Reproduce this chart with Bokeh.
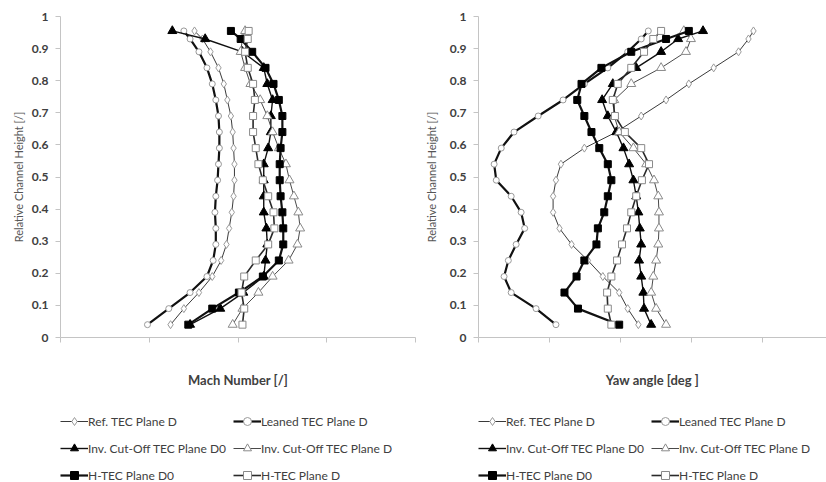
from bokeh.plotting import figure
from bokeh.layouts import row, column
from bokeh.models import Legend, LegendItem, FixedTicker, Range1d
from bokeh.embed import file_html
from bokeh.resources import INLINE

# Relative channel height of the traverse points
height = [0.04, 0.09, 0.14, 0.19, 0.24, 0.29, 0.34, 0.39, 0.44, 0.49,
          0.54, 0.59, 0.64, 0.69, 0.74, 0.79, 0.84, 0.89, 0.93, 0.955]

series_names = ["Ref. TEC Plane D", "Leaned TEC Plane D",
                "Inv. Cut-Off TEC Plane D0", "Inv. Cut-Off TEC Plane D",
                "H-TEC Plane D0", "H-TEC Plane D"]

# Mach number [/]
mach_ref = [0.324, 0.339, 0.356, 0.371, 0.381, 0.387, 0.390, 0.393, 0.395, 0.396,
            0.396, 0.395, 0.394, 0.392, 0.388, 0.384, 0.378, 0.369, 0.360, 0.351]
mach_leaned = [0.298, 0.322, 0.346, 0.365, 0.372, 0.375, 0.375, 0.374, 0.375, 0.377,
               0.378, 0.379, 0.379, 0.378, 0.375, 0.371, 0.365, 0.356, 0.346, 0.339]
mach_inv_d0 = [0.346, 0.380, 0.406, 0.429, 0.431, 0.433, 0.432, 0.429, 0.429, 0.429,
               0.429, 0.434, 0.437, 0.437, 0.439, 0.433, 0.429, 0.405, 0.363, 0.326]
mach_inv_d = [0.394, 0.405, 0.423, 0.439, 0.457, 0.467, 0.470, 0.468, 0.463, 0.458,
              0.454, 0.446, 0.439, 0.433, 0.425, 0.414, 0.408, 0.403, 0.405, 0.408]
mach_htec_d0 = [0.344, 0.371, 0.401, 0.428, 0.446, 0.451, 0.451, 0.450, 0.448, 0.447,
                0.447, 0.448, 0.450, 0.450, 0.446, 0.440, 0.431, 0.416, 0.403, 0.392]
mach_htec_d = [0.405, 0.407, 0.404, 0.407, 0.420, 0.434, 0.441, 0.440, 0.434, 0.428,
               0.423, 0.420, 0.417, 0.417, 0.419, 0.417, 0.411, 0.408, 0.411, 0.412]

# Yaw angle [deg]
yaw_ref = [-17.5, -19.0, -20.2, -22.5, -24.6, -26.9, -28.6, -29.5, -29.5, -29.1,
           -28.4, -25.1, -20.6, -17.1, -13.6, -10.4, -6.9, -3.4, -2.0, -1.3]
yaw_leaned = [-29.1, -31.9, -35.4, -36.4, -35.8, -34.7, -33.5, -34.0, -35.4, -37.5,
              -37.8, -36.8, -35.0, -31.6, -28.1, -25.1, -21.8, -19.0, -17.1, -16.1]
yaw_inv_d0 = [-15.7, -16.7, -16.8, -17.1, -17.4, -17.1, -17.3, -17.5, -17.8, -18.2,
              -18.8, -19.6, -20.6, -21.8, -22.6, -21.1, -17.8, -14.3, -11.9, -8.4]
yaw_inv_d = [-13.6, -15.0, -15.7, -15.4, -15.0, -14.7, -14.6, -14.6, -14.7, -15.3,
             -16.4, -18.2, -20.2, -20.9, -20.9, -18.5, -14.3, -10.8, -10.1, -11.1]
yaw_htec_d0 = [-20.2, -26.0, -27.9, -26.2, -25.1, -23.4, -23.2, -22.3, -21.8, -21.3,
               -21.8, -23.0, -24.1, -25.1, -26.1, -25.5, -22.7, -18.5, -13.6, -10.4]
yaw_htec_d = [-21.3, -21.8, -21.9, -21.3, -20.5, -19.8, -19.1, -18.5, -17.8, -17.0,
              -16.0, -17.1, -19.4, -20.8, -21.1, -20.4, -18.5, -16.7, -15.4, -14.3]

mach_ticks = [0.2, 0.3, 0.4, 0.5, 0.6]
yaw_ticks = [-40, -30, -20, -10, 0]
height_ticks = [0, 0.1, 0.2, 0.3, 0.4, 0.5, 0.6, 0.7, 0.8, 0.9, 1]

# styles (line color, line width, marker, marker size, marker fill, marker line)
styles = [
    dict(lc="#3a3a3a", lw=1.0, m="diamond", ms=8, fill="white", mline="#9a9a9a"),
    dict(lc="#111111", lw=2.2, m="circle", ms=6, fill="white", mline="#9a9a9a"),
    dict(lc="#111111", lw=1.4, m="triangle", ms=9, fill="black", mline="black"),
    dict(lc="#4a4a4a", lw=1.0, m="triangle", ms=9, fill="white", mline="#8a8a8a"),
    dict(lc="#111111", lw=2.2, m="square", ms=7, fill="black", mline="black"),
    dict(lc="#2a2a2a", lw=1.6, m="square", ms=7, fill="white", mline="#8a8a8a"),
]

FONT = "Lato"
MAIN_H = 394
LEG_H = 88


def make_panel(xseries, x_start, x_end, ticks, xlabel, width, bl, br, ylab_standoff):
    p = figure(width=width, height=MAIN_H, output_backend="svg", toolbar_location=None,
               x_range=Range1d(x_start, x_end), y_range=Range1d(0, 1),
               min_border_left=bl, min_border_right=br, min_border_top=16,
               min_border_bottom=MAIN_H - 337)
    p.outline_line_color = None
    p.xgrid.visible = False
    p.ygrid.visible = False

    p.xaxis.ticker = FixedTicker(ticks=ticks)
    p.xaxis.major_label_overrides = {t: "" for t in ticks}
    p.xaxis.major_label_standoff = 0
    p.xaxis.major_tick_out = 5
    p.xaxis.major_tick_in = 0
    p.xaxis.minor_tick_line_color = None
    p.xaxis.axis_line_color = "#c4c4c4"
    p.xaxis.major_tick_line_color = "#c4c4c4"
    p.xaxis.axis_label = xlabel
    p.xaxis.axis_label_text_font = FONT
    p.xaxis.axis_label_text_font_size = "13px"
    p.xaxis.axis_label_text_font_style = "bold"
    p.xaxis.axis_label_text_color = "#404040"
    p.xaxis.axis_label_standoff = 29

    p.yaxis.ticker = FixedTicker(ticks=height_ticks)
    p.yaxis.major_label_overrides = {0: "0", 1: "1"}
    p.yaxis.major_tick_out = 5
    p.yaxis.major_tick_in = 0
    p.yaxis.minor_tick_line_color = None
    p.yaxis.axis_line_color = "#c4c4c4"
    p.yaxis.major_tick_line_color = "#c4c4c4"
    p.yaxis.major_label_standoff = 7
    p.yaxis.major_label_text_font = FONT
    p.yaxis.major_label_text_font_size = "12px"
    p.yaxis.major_label_text_font_style = "bold"
    p.yaxis.major_label_text_color = "#404040"
    p.yaxis.axis_label = "Relative Channel Height [/]"
    p.yaxis.axis_label_text_font = FONT
    p.yaxis.axis_label_text_font_size = "11px"
    p.yaxis.axis_label_text_font_style = "normal"
    p.yaxis.axis_label_text_color = "#555555"
    p.yaxis.axis_label_standoff = ylab_standoff

    for xs, st in zip(xseries, styles):
        p.line(xs, height, line_color=st["lc"], line_width=st["lw"])
        p.scatter(xs, height, marker=st["m"], size=st["ms"],
                  fill_color=st["fill"], line_color=st["mline"], line_width=1)
    return p


def make_legend(xseries, x_start, x_end, width, dx):
    # separate strip below each chart holding its legend; the series are
    # re-plotted outside the visible y range so that only the legend shows
    q = figure(width=width, height=LEG_H, output_backend="svg", toolbar_location=None,
               x_range=Range1d(x_start, x_end), y_range=Range1d(5, 6),
               x_axis_location=None, y_axis_location=None,
               min_border_left=dx, min_border_right=0, min_border_top=17,
               min_border_bottom=0)
    q.outline_line_color = None
    q.xgrid.visible = False
    q.ygrid.visible = False
    items = []
    for name, xs, st in zip(series_names, xseries, styles):
        ln = q.line(xs, height, line_color=st["lc"], line_width=st["lw"])
        sc = q.scatter(xs, height, marker=st["m"], size=st["ms"] - 1,
                       fill_color=st["fill"], line_color=st["mline"], line_width=1)
        items.append(LegendItem(label=name, renderers=[ln, sc]))
    legend = Legend(items=items, location="top_left", orientation="horizontal",
                    ncols=2, glyph_width=28, glyph_height=20, label_height=20,
                    label_standoff=0, spacing=7, padding=0, margin=0,
                    label_text_font=FONT, label_text_font_size="12px",
                    label_text_color="#404040", border_line_color=None,
                    background_fill_alpha=0)
    q.add_layout(legend, "center")
    return q


mach_series = [mach_ref, mach_leaned, mach_inv_d0, mach_inv_d, mach_htec_d0, mach_htec_d]
yaw_series = [yaw_ref, yaw_leaned, yaw_inv_d0, yaw_inv_d, yaw_htec_d0, yaw_htec_d]

p1 = make_panel(mach_series, 0.2, 0.6, mach_ticks, "Mach Number [/]", 421, 60, 6, 4)
p2 = make_panel(yaw_series, -40, 8.98, yaw_ticks, "Yaw angle [deg ]", 405, 56, 0, 9)
l1 = make_legend(mach_series, 0.2, 0.6, 421, 50)
l2 = make_legend(yaw_series, -40, 8.98, 405, 45)

layout = row(column(p1, l1), column(p2, l2))
open("out.html", "w").write(file_html(layout, INLINE))
